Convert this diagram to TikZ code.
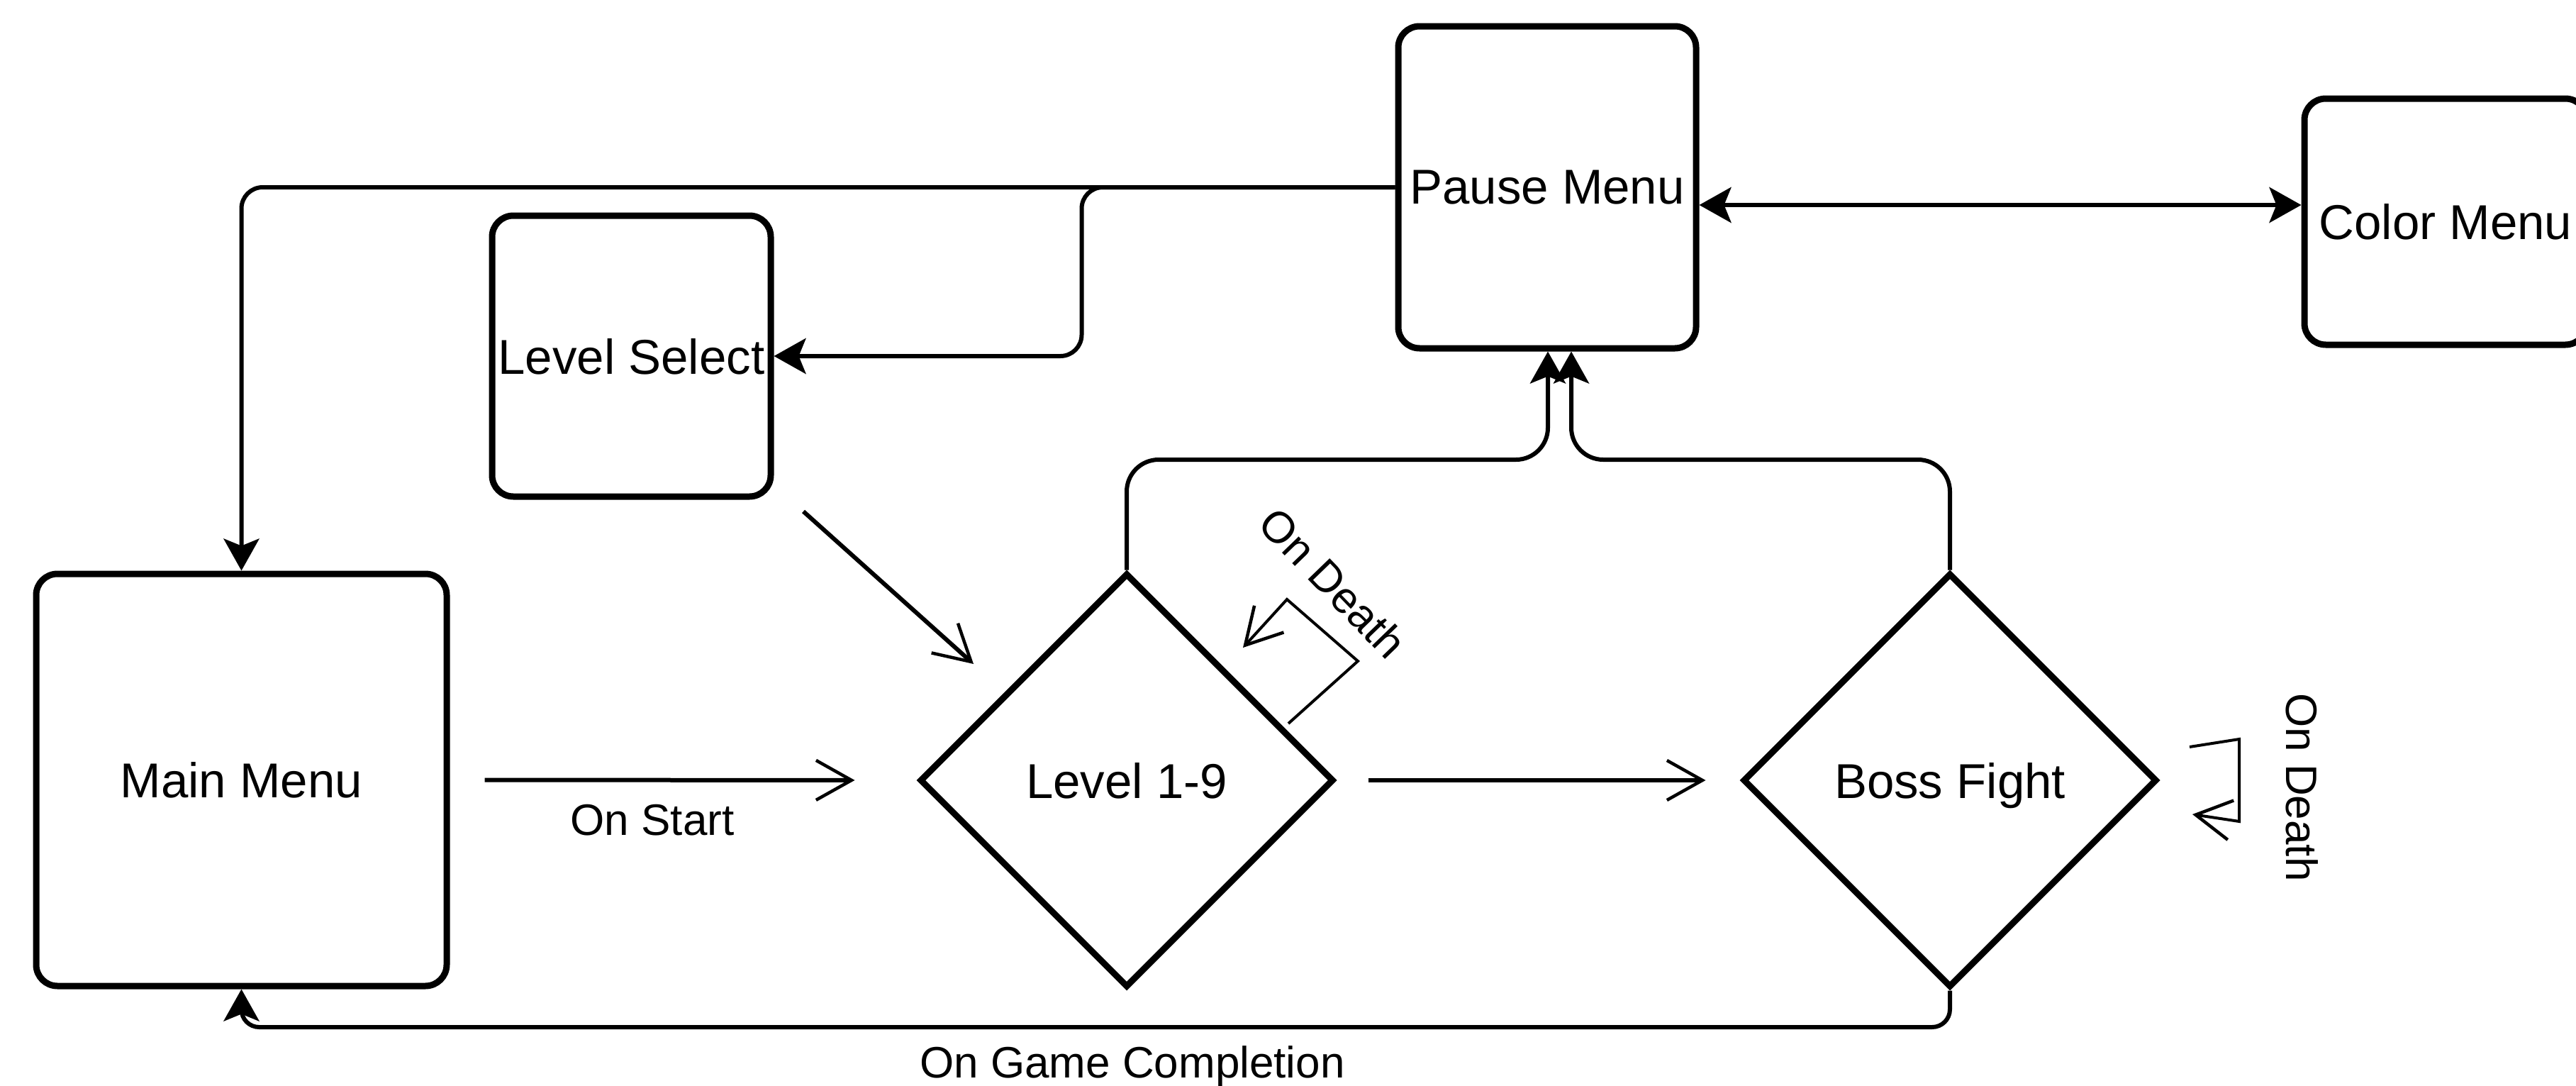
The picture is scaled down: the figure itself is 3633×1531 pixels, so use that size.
\documentclass[tikz,border=0pt]{standalone}
\usepackage{fontspec}
\setmainfont{Liberation Sans}
\usetikzlibrary{arrows.meta,shapes.geometric,calc}

\tikzset{
  menubox/.style={draw=black, line width=9pt, rounded corners=30pt, fill=white,
    inner sep=0pt, text depth=0pt, font=\fontsize{69}{80}\selectfont},
  stagediamond/.style={draw=black, line width=9pt, diamond, shape aspect=1,
    minimum width=584pt, minimum height=584pt, inner sep=0pt, text depth=0pt,
    font=\fontsize{69}{80}\selectfont},
  conn/.style={draw=black, line width=6pt},
  thinconn/.style={draw=black, line width=4pt},
  fillarr/.style={-{Stealth[length=45pt, width=50pt, inset=10pt]}},
  fillboth/.style={{Stealth[length=45pt, width=50pt, inset=10pt]}-{Stealth[length=45pt, width=50pt, inset=10pt]}},
  openarr/.style={-{Straight Barb[length=50pt, width=56pt, line width=4.5pt]}},
  edgelabel/.style={font=\fontsize{62}{72}\selectfont, inner sep=0pt},
}

\begin{document}
\begin{tikzpicture}[x=1pt, y=-1pt]
  % canvas
  \fill[white] (0,0) rectangle (3633,1531);
  \useasboundingbox (0,0) rectangle (3633,1531);

  % states
  \node[menubox, minimum width=579pt, minimum height=581pt] (main) at (340.5,1099.5) {Main Menu};
  \node[menubox, minimum width=393pt, minimum height=396pt] (lsel) at (890.5,502) {Level Select};
  \node[menubox, minimum width=420pt, minimum height=454pt] (pause) at (2182,264) {Pause Menu};
  \node[menubox, minimum width=398pt, minimum height=347pt] (color) at (3449,312.5) {Color Menu};
  \node[stagediamond] (lvl) at (1589,1100) {Level 1-9};
  \node[stagediamond] (boss) at (2750,1100) {Boss Fight};

  % routing points
  \coordinate (pcY) at (0,289);
  \coordinate (pjL) at (2183,648);
  \coordinate (pjR) at (2216,648);
  \coordinate (gc) at (1500,1448);
  \coordinate (lsA) at (1133,721);
  \coordinate (lsB) at (1373,936);

  % pause menu exits
  \draw[conn, fillarr, rounded corners=30pt] (pause.west) -| (main.north);
  \draw[conn, fillarr, rounded corners=30pt] (pause.west) -- ++(-442,0) |- (lsel.east);
  \draw[conn, fillboth] (pause.east |- pcY) -- (color.west |- pcY);

  % stages back to pause
  \draw[conn, fillarr, rounded corners=45pt] (lvl.north) |- (pjL) -- (pjL |- pause.south);
  \draw[conn, fillarr, rounded corners=45pt] (boss.north) |- (pjR) -- (pjR |- pause.south);

  % game flow
  \draw[conn, openarr, shorten <=49pt, shorten >=87pt] (main.east) -- (lvl.west);
  \draw[conn, openarr, shorten <=44pt, shorten >=48pt] (lvl.east) -- (boss.west);
  \draw[conn, openarr] (lsA) -- (lsB);
  \draw[conn, fillarr, rounded corners=25pt] (boss.south) -- (boss.south |- gc) -| (main.south);

  % death loops
  \coordinate (dl1) at (1817,1020);
  \coordinate (dl2) at (1915,932);
  \coordinate (dl3) at (1815,845);
  \coordinate (dl4) at (1753,913);
  \draw[thinconn, openarr] (dl1) -- (dl2) -- (dl3) -- (dl4);
  \coordinate (db1) at (3088,1053);
  \coordinate (db2) at (3158,1042);
  \coordinate (db3) at (3158,1158);
  \coordinate (db4) at (3092,1148);
  \draw[thinconn, openarr] (db1) -- (db2) -- (db3) -- (db4);

  % labels
  \node[edgelabel] (lstart) at (920,1156) {On Start};
  \node[edgelabel] (lgame) at (1597,1503) {On Game Completion};
  \node[edgelabel, rotate=-46] (ldeath1) at (1880,822) {On Death};
  \node[edgelabel, rotate=-90] (ldeath2) at (3247,1110) {On Death};
\end{tikzpicture}
\end{document}
